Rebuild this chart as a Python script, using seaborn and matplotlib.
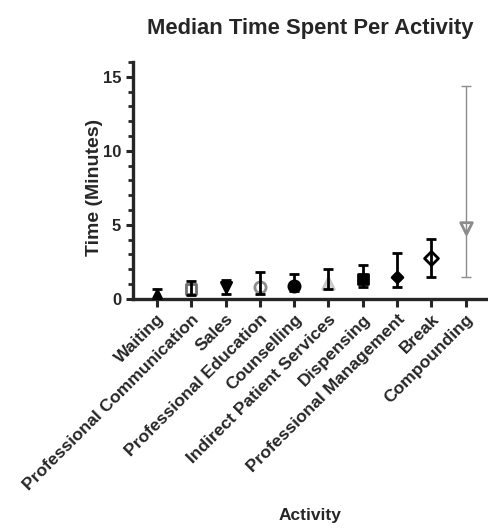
import pandas as pd
import matplotlib.pyplot as plt
import seaborn as sns
from matplotlib.ticker import MultipleLocator

# data
activities = ["Waiting", "Professional Communication", "Sales", "Professional Education",
              "Counselling", "Indirect Patient Services", "Dispensing",
              "Professional Management", "Break", "Compounding"]
medians = [0.23, 0.68, 0.79, 0.81, 0.86, 1.08, 1.36, 1.45, 2.73, 4.81]
lower = [0.0, 0.29, 0.34, 0.34, 0.50, 0.66, 0.81, 0.81, 1.49, 1.49]
upper = [0.68, 1.24, 1.27, 1.83, 1.69, 1.99, 2.26, 3.12, 4.07, 14.35]

marker_list = ["^", "s", "v", "o", "o", "^", "s", "D", "D", "v"]
edge_colors = ["black", "#6e6e6e", "black", "#8c8c8c", "black", "#c8c8c8",
               "black", "black", "black", "#8c8c8c"]
face_colors = ["black", "white", "black", "white", "black", "#d8d8d8",
               "black", "black", "white", "white"]
marker_sizes = [55, 50, 55, 65, 65, 70, 60, 30, 50, 70]

df = pd.DataFrame({"Activity": activities, "Median": medians,
                   "Lower": lower, "Upper": upper})

sns.set_style("ticks")
plt.rcParams["font.family"] = ["Liberation Sans", "DejaVu Sans"]
plt.rcParams["font.weight"] = "bold"

fig = plt.figure(figsize=(4.88, 5.29), dpi=100)
ax = fig.add_axes([0.2725, 0.435, 0.7275, 0.448])

# one call per activity so each marker keeps its own shape and fill
for i, name in enumerate(activities):
    sns.scatterplot(x=[name], y=[medians[i]], marker=marker_list[i],
                    s=marker_sizes[i], color=face_colors[i],
                    edgecolor=edge_colors[i], linewidth=2.0, ax=ax, zorder=2)

# error bars (range)
x_pos = list(range(len(activities)))
for i in x_pos:
    grey = i == len(activities) - 1
    ax.errorbar(i, medians[i],
                yerr=[[medians[i] - lower[i]], [upper[i] - medians[i]]],
                fmt="none", ecolor="#8c8c8c" if grey else "black",
                elinewidth=1.0 if grey else 2.0, capsize=3.8,
                capthick=1.0 if grey else 2.0, zorder=3)

ax.set_xlim(-0.7, 9.65)
ax.set_ylim(0, 16)
ax.yaxis.set_major_locator(MultipleLocator(5))
ax.yaxis.set_minor_locator(MultipleLocator(1))
ax.set_xticks(x_pos)
ax.set_xticklabels(activities, rotation=45, ha="right", rotation_mode="anchor",
                   fontsize=12.6, fontweight="bold")
for lab in ax.get_yticklabels():
    lab.set_fontsize(12)
    lab.set_fontweight("bold")

sns.despine(ax=ax)
for s in ["left", "bottom"]:
    ax.spines[s].set_linewidth(2.4)
ax.tick_params(axis="both", which="major", width=2.2, length=5)
ax.tick_params(axis="x", length=6, pad=3)
ax.tick_params(axis="y", which="minor", width=2.0, length=3.5)

ax.set_title("Median Time Spent Per Activity", fontsize=15.8, fontweight="bold", pad=20)
ax.set_xlabel("Activity", fontsize=12.5, fontweight="bold", va="center")
ax.xaxis.set_label_coords(0.5, -0.915)
ax.set_ylabel("Time (Minutes)", fontsize=14, fontweight="bold", va="center")
ax.yaxis.set_label_coords(-0.107, 0.47)

plt.savefig("out.png", dpi=100)
plt.close()
